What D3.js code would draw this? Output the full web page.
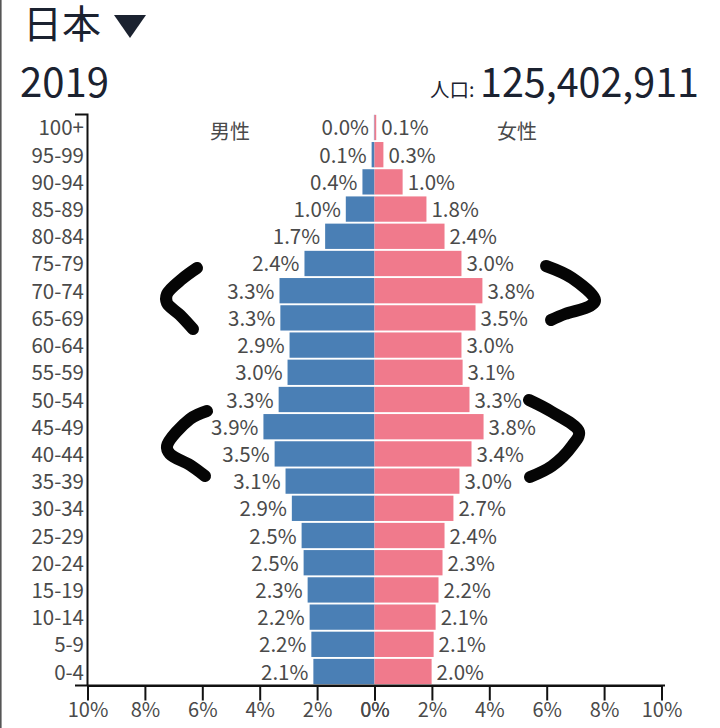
<!DOCTYPE html>
<html><head><meta charset="utf-8">
<script src="https://cdn.jsdelivr.net/npm/d3@7"></script>
<style>html,body{margin:0;padding:0;background:#fff}svg{display:block}text{font-family:"Noto Sans CJK JP","Noto Sans",sans-serif}</style>
</head><body><svg id="c" width="720" height="728"></svg>
<script>
const ageGroups=["100+","95-99","90-94","85-89","80-84","75-79","70-74","65-69","60-64","55-59","50-54","45-49","40-44","35-39","30-34","25-29","20-24","15-19","10-14","5-9","0-4"];
const maleValues=[0.02,0.1,0.42,1.0,1.72,2.44,3.31,3.28,2.96,3.03,3.34,3.87,3.48,3.1,2.88,2.54,2.47,2.33,2.26,2.2,2.13];
const femaleValues=[0.06,0.31,0.98,1.81,2.44,3.03,3.76,3.52,3.03,3.07,3.31,3.8,3.38,2.96,2.75,2.44,2.37,2.23,2.13,2.06,1.99];
const maleLabels=["0.0%","0.1%","0.4%","1.0%","1.7%","2.4%","3.3%","3.3%","2.9%","3.0%","3.3%","3.9%","3.5%","3.1%","2.9%","2.5%","2.5%","2.3%","2.2%","2.2%","2.1%"];
const femaleLabels=["0.1%","0.3%","1.0%","1.8%","2.4%","3.0%","3.8%","3.5%","3.0%","3.1%","3.3%","3.8%","3.4%","3.0%","2.7%","2.4%","2.3%","2.2%","2.1%","2.1%","2.0%"];
const tickValues=[0,2,4,6,8,10];
const country="日本",year="2019",populationLabel="人口:",population="125,402,911",maleTitle="男性",femaleTitle="女性";
const svg=d3.select("#c");
const xL=d3.scaleLinear().domain([0,10]).range([374.5,87.5]);
const xR=d3.scaleLinear().domain([0,10]).range([374.5,661.5]);
const y=d3.scaleBand().domain(ageGroups).range([114,685]).paddingInner(0.07).paddingOuter(0.03);
const ink="#1b2230",grey="#4a4a4a";
svg.append("rect").attr("x",0).attr("y",0).attr("width",1.6).attr("height",728).attr("fill","#555");
const txt=(x,yy,s,size,fill,anchor)=>svg.append("text").attr("x",x).attr("y",yy).text(s).attr("font-size",size).attr("fill",fill).attr("text-anchor",anchor||"start");
txt(23,38,country,39,ink).attr("font-weight",400);
svg.append("path").attr("d",d3.line()([[114,15],[146,15],[130,38]])+"Z").attr("fill",ink);
txt(20,97,year,40,ink).attr("font-weight",400).attr("textLength",89).attr("lengthAdjust","spacingAndGlyphs");
txt(430,97,populationLabel,19.5,ink);
txt(480,97,population,40,ink).attr("font-weight",400).attr("textLength",219).attr("lengthAdjust","spacingAndGlyphs");
svg.selectAll(".m").data(ageGroups).join("rect").attr("fill","#4a7fb5").attr("x",d=>xL(maleValues[ageGroups.indexOf(d)])).attr("y",d=>y(d)).attr("height",y.bandwidth()).attr("width",d=>xL(0)-xL(maleValues[ageGroups.indexOf(d)]));
svg.selectAll(".f").data(ageGroups).join("rect").attr("fill","#f07a8c").attr("x",xR(0)).attr("y",d=>y(d)).attr("height",y.bandwidth()).attr("width",d=>xR(femaleValues[ageGroups.indexOf(d)])-xR(0));
ageGroups.forEach((d,i)=>{
  const cy=y(d)+y.bandwidth()/2+8;
  txt(xL(maleValues[i])-5,cy,maleLabels[i],20.5,grey,"end");
  txt(xR(femaleValues[i])+5,cy,femaleLabels[i],20.5,grey,"start");
  txt(84,cy,d,20.5,grey,"end");
});
txt(230,139,maleTitle,20,grey,"middle");
txt(517,139,femaleTitle,20,grey,"middle");
const axY=685.5;
svg.append("path").attr("d","M75,114.5H87.5V"+axY).attr("fill","none").attr("stroke","#111").attr("stroke-width",2);
const bottomL=svg.append("g").attr("transform",`translate(0,${axY})`).call(d3.axisBottom(xL).tickValues(tickValues).tickFormat(d=>d+"%").tickSize(15).tickSizeOuter(0));
const bottomR=svg.append("g").attr("transform",`translate(0,${axY})`).call(d3.axisBottom(xR).tickValues(tickValues).tickFormat(d=>d+"%").tickSize(15).tickSizeOuter(0));
[bottomL,bottomR].forEach(g=>{g.select(".domain").attr("stroke","#111").attr("stroke-width",2);
 g.selectAll("line").attr("stroke","#111").attr("stroke-width",2);
 g.selectAll("text").attr("font-size",20).attr("fill",grey).attr("dy",0).attr("dominant-baseline","hanging").attr("y",13);});
svg.append("path").attr("d","M75,"+axY+"H665").attr("stroke","#111").attr("stroke-width",2);
const marks=[
 [[197,268],[182,279],[167,294],[167,303],[180,315],[193,329]],
 [[207,411],[190,419],[167,446],[170,454],[190,465],[205,476]],
 [[546,266],[572,278],[595,300],[590,306],[565,314],[551,320]],
 [[529,400],[552,412],[579,432],[572,446],[552,466],[530,477]]
];
marks.forEach(m=>svg.append("path").attr("d",d3.line().curve(d3.curveCatmullRom)(m)).attr("fill","none").attr("stroke","#050505").attr("stroke-width",12).attr("stroke-linecap","round").attr("stroke-linejoin","round"));
</script></body></html>
